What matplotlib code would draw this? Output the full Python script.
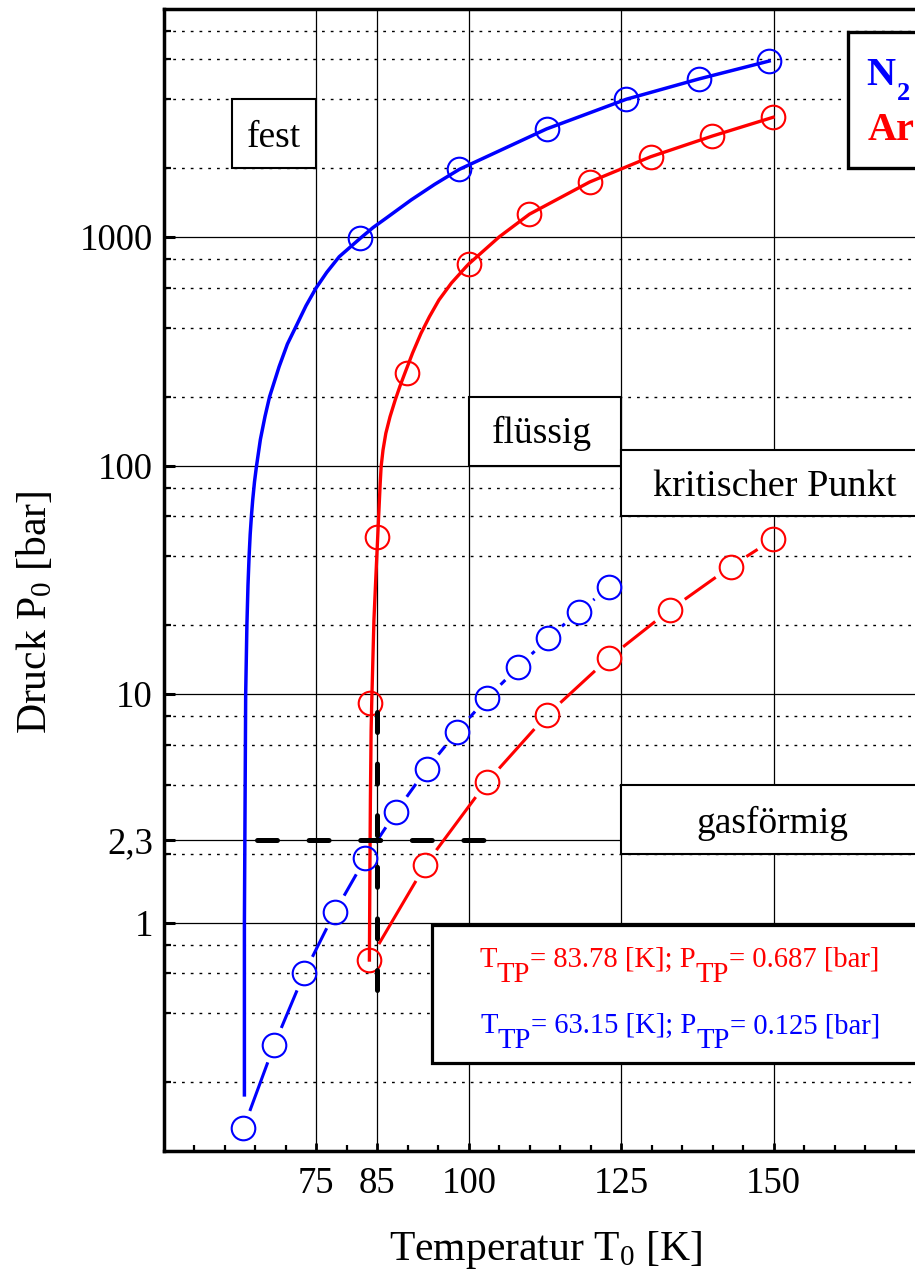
import numpy as np
import matplotlib
matplotlib.use("Agg")
import matplotlib.pyplot as plt
from matplotlib.patches import Rectangle
from matplotlib.ticker import FixedLocator, NullFormatter, FixedFormatter

# ---------------- data ----------------
# N2 melting curve (solid blue)
n2_melt_T = [63.20, 63.20, 63.41, 63.61, 63.79, 63.97, 64.15, 64.35, 64.56, 64.86, 65.17,
             65.82, 66.58, 67.33, 68.9, 70.25, 71.64, 73.3, 74.93, 76.7, 78.75, 82.2,
             84.3, 86.42, 90.53, 94.4, 98.46, 112.74, 125.83, 137.67, 149.25]
n2_melt_P = [0.176, 1.0, 10.0, 20.0, 30.0, 40.0, 50.0, 60.0, 70.6, 85.0, 98.8,
             130, 164, 200, 271, 340, 405, 500, 597, 700, 820, 987,
             1100, 1208, 1452, 1700, 1978, 2971, 4008, 4912, 5890]
n2_melt_mark_T = [82.2, 98.46, 112.74, 125.83, 137.67, 149.25]
n2_melt_mark_P = [987, 1978, 2971, 4008, 4912, 5890]
# N2 vapour pressure (blue circles)
n2_vap_T = [63.04, 68.08, 73.0, 78.05, 83.05, 88.06, 93.09, 98.05, 103.05, 108.14,
            112.96, 118.05, 122.97]
n2_vap_P = [0.1257, 0.291, 0.599, 1.115, 1.91, 3.05, 4.70, 6.84, 9.63, 13.13,
            17.53, 22.9, 29.3]

# Ar melting curve (solid red)
ar_melt_T = [83.70, 83.78, 83.86, 83.98, 84.08, 84.44, 84.77, 85.06, 85.34, 85.47, 85.62,
             85.93, 86.39, 87.08, 87.93, 88.72, 89.54, 90.78, 92.16, 93.54, 95.10, 97.15,
             99.56, 99.98, 105.02, 109.95, 119.8, 129.82, 139.95, 149.9]
ar_melt_P = [0.685, 1.697, 3.437, 6.96, 9.16, 21.08, 33.18, 48.8, 70.6, 83.8, 98.8,
             116.9, 138.3, 163.5, 193.5, 222.8, 254.7, 310.8, 378.9, 447.9, 530.1, 629,
             741.3, 761.8, 1003, 1259, 1740, 2245, 2767, 3342]
ar_melt_mark_T = [83.85, 84.94, 89.87, 99.98, 109.95, 119.8, 129.82, 139.95, 149.9]
ar_melt_mark_P = [9.16, 48.5, 255, 762, 1259, 1740, 2245, 2767, 3342]
# Ar vapour pressure (red circles)
ar_vap_T = [83.70, 92.87, 102.94, 112.78, 122.92, 132.94, 142.96, 149.9]
ar_vap_P = [0.685, 1.785, 4.11, 8.07, 14.33, 23.3, 36.1, 47.5]

# guide lines through the Ar triple point
guide_h_T = [65.25, 102.43]
guide_h_P = [2.3, 2.3]
guide_v_T = [85.0, 85.0]
guide_v_P = [8.3, 0.504]

x_ticks = [75, 85, 100, 125, 150]
x_ticklabels = ["75", "85", "100", "125", "150"]
y_ticks = [1, 2.3, 10, 100, 1000]
y_ticklabels = ["1", "2,3", "10", "100", "1000"]

BLUE = "#0000ff"
RED = "#ff0000"

# ---------------- style ----------------
plt.rcParams['font.family'] = ['Liberation Serif', 'DejaVu Serif']
plt.rcParams['mathtext.fontset'] = 'custom'
plt.rcParams['mathtext.rm'] = 'Liberation Serif'
plt.rcParams['mathtext.it'] = 'Liberation Serif:italic'
plt.rcParams['mathtext.bf'] = 'Liberation Serif:bold'

W, H = 915, 1278
fig = plt.figure(figsize=(W / 100, H / 100), dpi=100)
ax = fig.add_axes([163.9 / W, 127 / H, (926.2 - 163.9) / W, (1151 - 8.5) / H])
ax.set_xlim(50, 175)
ax.set_yscale('log')
ax.set_ylim(0.1, 1e4)

# ticks
ax.xaxis.set_major_locator(FixedLocator(x_ticks))
ax.xaxis.set_major_formatter(FixedFormatter(x_ticklabels))
ax.xaxis.set_minor_locator(FixedLocator([v for v in range(55, 175, 5) if v not in x_ticks]))
ax.xaxis.set_minor_formatter(NullFormatter())
ax.yaxis.set_major_locator(FixedLocator(y_ticks))
ax.yaxis.set_major_formatter(FixedFormatter(y_ticklabels))
minor_y = [m * 10.0 ** k for k in range(-1, 4) for m in (2, 4, 6, 8)]
ax.yaxis.set_minor_locator(FixedLocator(minor_y))
ax.yaxis.set_minor_formatter(NullFormatter())

ax.tick_params(axis='y', which='major', direction='in', length=8, width=2.2,
               labelsize=26.5, pad=8, left=True, right=False)
ax.tick_params(axis='y', which='minor', direction='in', length=4.8, width=1.6,
               left=True, right=False)
ax.tick_params(axis='x', which='major', direction='in', length=6, width=2.0,
               labelsize=26.5, pad=11, bottom=True, top=False)
ax.tick_params(axis='x', which='minor', direction='in', length=4.5, width=1.6,
               bottom=True, top=False)

for s in ('left', 'bottom', 'top'):
    ax.spines[s].set_linewidth(2.5)
ax.spines['right'].set_visible(False)

ax.set_axisbelow(True)
ax.grid(which='major', axis='both', color='black', lw=0.9, ls='-')
ax.grid(which='minor', axis='y', color='black', lw=1.0, ls=(0, (2, 4.3)))

# ---------------- boxes ----------------
def box(x0, x1, y0, y1, lw):
    r = Rectangle((x0, y0), x1 - x0, y1 - y0, facecolor='white', edgecolor='black',
                  lw=lw, zorder=3, transform=ax.transData)
    ax.add_patch(r)

box(61.13, 75, 2000, 4000, 1.5)            # fest
box(100, 125, 100, 200, 1.5)               # fluessig
box(125, 200, 60, 117, 1.5)                # kritischer Punkt
box(125, 200, 2, 4, 1.5)                   # gasfoermig
box(93.9, 200, 0.243, 0.98, 2.3)           # triple point info
box(162.2, 200, 2000, 7910, 2.4)           # legend

TXT = 27
ax.text(68.07, 2470, "fest", fontsize=TXT, ha='center', va='baseline', zorder=6)
ax.text(112.0, 125, "flüssig", fontsize=TXT, ha='center', va='baseline', zorder=6)
ax.text(150.2, 73.6, "kritischer Punkt", fontsize=27.5, ha='center', va='baseline', zorder=6)
ax.text(149.7, 2.457, "gasförmig", fontsize=TXT, ha='center', va='baseline', zorder=6)

# rich text with full-size lowered subscripts
SUB_OFF = 10.8  # points


def rich_line(x, y, parts, color, size):
    prev = ax.text(x, y, parts[0][0], fontsize=size, color=color, ha='left',
                   va='baseline', zorder=6)
    prev_sub = parts[0][1]
    for txt, sub in parts[1:]:
        dy = 0
        if sub and not prev_sub:
            dy = -SUB_OFF
        elif prev_sub and not sub:
            dy = SUB_OFF
        prev = ax.annotate(txt, xy=(1, 0), xycoords=prev, xytext=(0, dy),
                           textcoords='offset points', ha='left', va='bottom',
                           fontsize=size, color=color, zorder=6)
        prev_sub = sub


rich_line(101.74, 0.641, [("T", False), ("TP", True), ("= 83.78 [K]; P", False),
                          ("TP", True), ("= 0.687 [bar]", False)], RED, 20.6)
rich_line(101.9, 0.3284, [("T", False), ("TP", True), ("= 63.15 [K]; P", False),
                          ("TP", True), ("= 0.125 [bar]", False)], BLUE, 20.6)

# legend text
tN = ax.text(165.24, 4624, "N", fontsize=29, color=BLUE, fontweight='bold',
             ha='left', va='baseline', zorder=6)
ax.annotate("2", xy=(1, 0), xycoords=tN, xytext=(1, -8.0), textcoords='offset points',
            ha='left', va='bottom', fontsize=19, color=BLUE, fontweight='bold', zorder=6)
ax.text(165.45, 2658, "Ar", fontsize=29, color=RED, fontweight='bold',
        ha='left', va='baseline', zorder=6)

# ---------------- curves ----------------
MS = 17
MEW = 1.5
ax.plot(n2_melt_T, n2_melt_P, color=BLUE, lw=2.5, zorder=4, solid_joinstyle='round')
ax.plot(n2_melt_mark_T, n2_melt_mark_P, ls='none', marker='o', ms=MS, mfc='none',
        mec=BLUE, mew=MEW, zorder=4)
ax.plot(ar_melt_T, ar_melt_P, color=RED, lw=2.4, zorder=4, solid_joinstyle='round')
ax.plot(ar_melt_mark_T, ar_melt_mark_P, ls='none', marker='o', ms=MS, mfc='none',
        mec=RED, mew=MEW, zorder=4)


def gapped(T, P, color, gap_px=18.5, lw=2.2):
    pts = ax.transData.transform(np.column_stack([T, P]))
    inv = ax.transData.inverted()
    for a, b in zip(pts[:-1], pts[1:]):
        d = b - a
        L = np.hypot(d[0], d[1])
        if L <= 2 * gap_px + 1:
            continue
        u = d / L
        q = inv.transform(np.array([a + u * gap_px, b - u * gap_px]))
        ax.plot(q[:, 0], q[:, 1], color=color, lw=lw, solid_capstyle='butt', zorder=4)


gapped(n2_vap_T, n2_vap_P, BLUE)
ax.plot(n2_vap_T, n2_vap_P, ls='none', marker='o', ms=MS, mfc='none', mec=BLUE,
        mew=MEW, zorder=4)
gapped(ar_vap_T, ar_vap_P, RED)
ax.plot(ar_vap_T, ar_vap_P, ls='none', marker='o', ms=MS, mfc='none', mec=RED,
        mew=MEW, zorder=4)

# guide lines
ax.plot(guide_h_T, guide_h_P, color='black', lw=3.6, ls=(0, (4.0, 6.32)),
        dash_capstyle='round', zorder=5)
ax.plot(guide_v_T, guide_v_P, color='black', lw=3.6, ls=(0, (4.0, 6.32)),
        dash_capstyle='round', zorder=5)

# ---------------- axis labels ----------------
fig.text(545 / W, 1 - 1260 / H, r"Temperatur T$_0$ [K]", fontsize=30,
         ha='center', va='baseline')
fig.text(35 / W, 1 - 612 / H, r"Druck P$_0$ [bar]", fontsize=30, rotation=90,
         ha='center', va='center')

fig.savefig("out.png", dpi=100)
